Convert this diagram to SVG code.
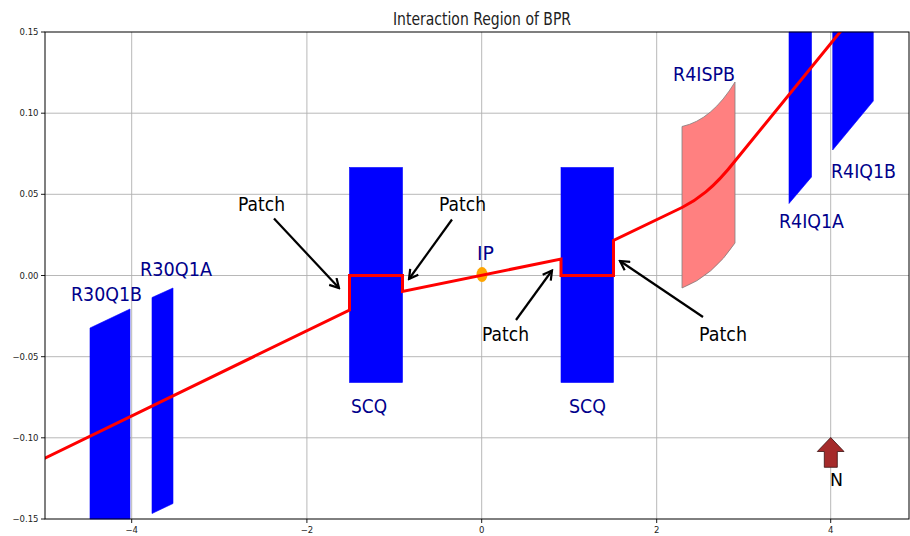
<svg xmlns="http://www.w3.org/2000/svg" width="910" height="536" viewBox="0 0 910 536">
  <style>
    .grid { stroke: #b0b0b0; stroke-width: 0.9; fill: none; }
    .spine { stroke: #000; stroke-width: 1; fill: none; }
    .tick { stroke: #000; stroke-width: 0.9; }
    .ticklbl { font-family: "DejaVu Sans", sans-serif; font-size: 8.5px; fill: #222; }
    .mag { fill: #0000ff; stroke: #0000ff; stroke-width: 0.6; }
    .lbl { font-family: "DejaVu Sans", sans-serif; font-size: 19.5px; fill: #00008b; }
    .note { font-family: "DejaVu Sans", sans-serif; font-size: 20px; fill: #000; }
    .ann { stroke: #000; stroke-width: 2.2; fill: none; marker-end: url(#head); }
    .orbit { stroke: #ff0000; stroke-width: 3; fill: none; stroke-linejoin: miter; }
  </style>
  <defs>
    <marker id="head" markerWidth="12" markerHeight="12" refX="10" refY="6" orient="auto" markerUnits="userSpaceOnUse">
      <path d="M1,1 L10,6 L1,11" fill="none" stroke="#000" stroke-width="2.2"/>
    </marker>
    <clipPath id="plotArea">
      <rect x="45" y="32" width="864" height="487"/>
    </clipPath>
  </defs>

  <rect width="910" height="536" fill="#fff"/>

  <!-- title -->
  <text x="393" y="25" textLength="178" lengthAdjust="spacingAndGlyphs" style="font-family: 'DejaVu Sans', sans-serif; font-size: 17px; fill: #222;">Interaction Region of BPR</text>

  <!-- grid -->
  <g id="grid">
    <path class="grid" d="M131.7,32V519 M306.9,32V519 M481.7,32V519 M656.7,32V519 M830.7,32V519"/>
    <path class="grid" d="M45,113.2H909 M45,194.3H909 M45,275.5H909 M45,356.7H909 M45,437.8H909"/>
  </g>

  <!-- axes ticks and labels -->
  <g id="axes">
    <path class="tick" d="M41,32H45 M41,113.2H45 M41,194.3H45 M41,275.5H45 M41,356.7H45 M41,437.8H45 M41,519H45"/>
    <path class="tick" d="M131.7,519v4 M306.9,519v4 M481.7,519v4 M656.7,519v4 M830.7,519v4"/>
    <g class="ticklbl" text-anchor="end">
      <text x="38.5" y="35">0.15</text>
      <text x="38.5" y="116.2">0.10</text>
      <text x="38.5" y="197.3">0.05</text>
      <text x="38.5" y="278.5">0.00</text>
      <text x="38.5" y="359.7">−0.05</text>
      <text x="38.5" y="440.8">−0.10</text>
      <text x="38.5" y="522">−0.15</text>
    </g>
    <g class="ticklbl" text-anchor="middle">
      <text x="131.7" y="533">−4</text>
      <text x="306.9" y="533">−2</text>
      <text x="481.7" y="533">0</text>
      <text x="656.7" y="533">2</text>
      <text x="830.7" y="533">4</text>
    </g>
  </g>

  <!-- magnets -->
  <g id="R30Q1B">
    <polygon class="mag" points="90,328 130,309 130,519 90,519"/>
    <text class="lbl" x="71" y="301" textLength="71" lengthAdjust="spacingAndGlyphs">R30Q1B</text>
  </g>
  <g id="R30Q1A">
    <polygon class="mag" points="152,297.5 173,288 173,503.5 152,513.5"/>
    <text class="lbl" x="140" y="276" textLength="72" lengthAdjust="spacingAndGlyphs">R30Q1A</text>
  </g>
  <g id="SCQ-left">
    <rect class="mag" x="349.5" y="167.5" width="53" height="215"/>
    <text class="lbl" x="351" y="413" textLength="36" lengthAdjust="spacingAndGlyphs">SCQ</text>
  </g>
  <g id="SCQ-right">
    <rect class="mag" x="561" y="167.5" width="52.5" height="215"/>
    <text class="lbl" x="569" y="413" textLength="37" lengthAdjust="spacingAndGlyphs">SCQ</text>
  </g>
  <g id="R4ISPB">
    <path d="M682,126.5 Q712,120 735,82 L735,243 Q713,276 682,288 Z" fill="#ff8080" stroke="#808080" stroke-width="0.8"/>
    <text class="lbl" x="673" y="81" textLength="62" lengthAdjust="spacingAndGlyphs">R4ISPB</text>
  </g>
  <g id="R4IQ1A">
    <polygon class="mag" points="789,32 811.5,32 811.5,177 789,203.5"/>
    <text class="lbl" x="779" y="228" textLength="65" lengthAdjust="spacingAndGlyphs">R4IQ1A</text>
  </g>
  <g id="R4IQ1B">
    <polygon class="mag" points="832.7,32 873.3,32 873.3,101 832.7,150"/>
    <text class="lbl" x="831" y="178" textLength="65" lengthAdjust="spacingAndGlyphs">R4IQ1B</text>
  </g>
  <g id="IP">
    <ellipse cx="482" cy="274.5" rx="5.5" ry="7.5" fill="#ffa500"/>
    <text class="lbl" x="477" y="260" textLength="17" lengthAdjust="spacingAndGlyphs">IP</text>
  </g>

  <!-- beam orbit -->
  <g id="orbit" clip-path="url(#plotArea)">
    <path class="orbit" d="M40,460.5 L349.5,310 L349.5,275.5 L402.5,275.5 L402.5,291.5 L561,259 L561,275.5 L613.5,275.5 L613.5,240.5 L682,207.5 C697,200 713,189 735,161 L845,26"/>
  </g>

  <!-- annotations -->
  <g id="connectors">
    <path class="ann" d="M274,218.5 L339,288"/>
    <path class="ann" d="M452,219.5 L409,279"/>
    <path class="ann" d="M516,320 L552,270.5"/>
    <path class="ann" d="M703,317 L620,261"/>
  </g>
  <g id="patch-labels">
    <text class="note" x="238" y="211" textLength="47" lengthAdjust="spacingAndGlyphs">Patch</text>
    <text class="note" x="439" y="211" textLength="47" lengthAdjust="spacingAndGlyphs">Patch</text>
    <text class="note" x="482" y="341" textLength="47" lengthAdjust="spacingAndGlyphs">Patch</text>
    <text class="note" x="699" y="341" textLength="48" lengthAdjust="spacingAndGlyphs">Patch</text>
  </g>

  <!-- north arrow -->
  <g id="north">
    <polygon points="830.7,437.5 844,451.5 837.3,451.5 837.3,467.3 824.3,467.3 824.3,451.5 817.3,451.5" fill="#a52a2a" stroke="#3a1010" stroke-width="0.8"/>
    <text class="note" x="830" y="486" textLength="13" lengthAdjust="spacingAndGlyphs" style="font-size: 18px;">N</text>
  </g>

  <!-- spines -->
  <rect class="spine" x="45" y="32" width="864" height="487"/>
</svg>
